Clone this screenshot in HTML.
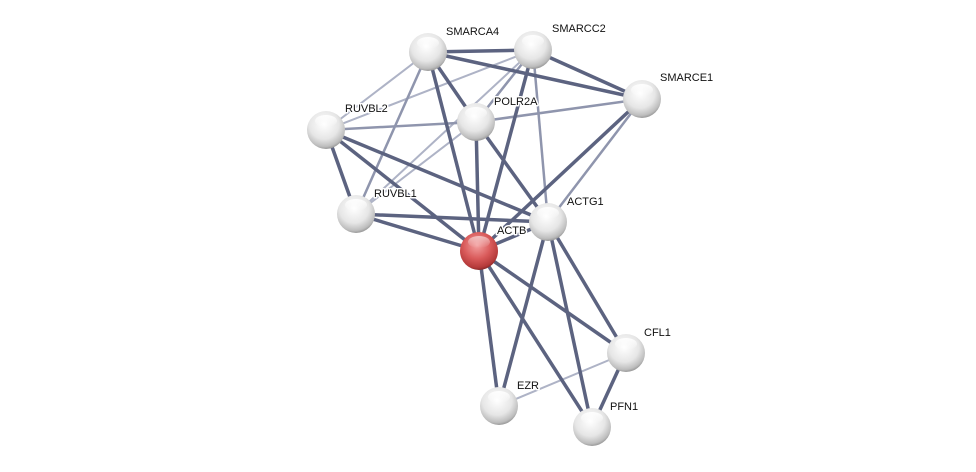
<!DOCTYPE html>
<html><head><meta charset="utf-8"><style>
html,body{margin:0;padding:0;background:#fff;width:976px;height:472px;overflow:hidden}
svg text{font-family:"Liberation Sans",sans-serif;font-size:11px;fill:#111;stroke:#fff;stroke-width:3px;paint-order:stroke;stroke-linejoin:round}
</style></head><body>
<svg width="976" height="472" viewBox="0 0 976 472">
<defs>
<radialGradient id="g" cx="0.45" cy="0.35" r="0.65">
<stop offset="0" stop-color="#ffffff"/><stop offset="0.6" stop-color="#e6e6e6"/><stop offset="0.9" stop-color="#bdbdbd"/><stop offset="1" stop-color="#9a9a9a"/></radialGradient>
<radialGradient id="r" cx="0.45" cy="0.35" r="0.65">
<stop offset="0" stop-color="#f3a0a0"/><stop offset="0.55" stop-color="#d95a5a"/><stop offset="0.9" stop-color="#b53a3a"/><stop offset="1" stop-color="#8a2a2a"/></radialGradient>
<linearGradient id="h" x1="0" y1="0" x2="0" y2="1"><stop offset="0" stop-color="#fff" stop-opacity="0.95"/><stop offset="1" stop-color="#fff" stop-opacity="0"/></linearGradient>
</defs>
<g stroke-linecap="butt">
<g stroke="#aeb3c6" stroke-width="2">
<line x1="428" y1="52" x2="326" y2="130"/>
<line x1="533" y1="50" x2="326" y2="130"/>
<line x1="533" y1="50" x2="356" y2="214"/>
<line x1="476" y1="122" x2="356" y2="214"/>
<line x1="626" y1="353" x2="499" y2="406"/>
</g>
<g stroke="#8f95ad" stroke-width="2.5">
<line x1="428" y1="52" x2="356" y2="214"/>
<line x1="533" y1="50" x2="476" y2="122"/>
<line x1="533" y1="50" x2="548" y2="222"/>
<line x1="642" y1="99" x2="548" y2="222"/>
<line x1="326" y1="130" x2="476" y2="122"/>
<line x1="476" y1="122" x2="642" y2="99"/>
</g>
<g stroke="#5c6380" stroke-width="3.5">
<line x1="428" y1="52" x2="533" y2="50"/>
<line x1="428" y1="52" x2="642" y2="99"/>
<line x1="428" y1="52" x2="476" y2="122"/>
<line x1="428" y1="52" x2="479" y2="251"/>
<line x1="533" y1="50" x2="642" y2="99"/>
<line x1="533" y1="50" x2="479" y2="251"/>
<line x1="642" y1="99" x2="479" y2="251"/>
<line x1="476" y1="122" x2="479" y2="251"/>
<line x1="476" y1="122" x2="548" y2="222"/>
<line x1="326" y1="130" x2="479" y2="251"/>
<line x1="326" y1="130" x2="548" y2="222"/>
<line x1="326" y1="130" x2="356" y2="214"/>
<line x1="356" y1="214" x2="548" y2="222"/>
<line x1="356" y1="214" x2="479" y2="251"/>
<line x1="479" y1="251" x2="548" y2="222"/>
<line x1="479" y1="251" x2="626" y2="353"/>
<line x1="479" y1="251" x2="592" y2="427"/>
<line x1="479" y1="251" x2="499" y2="406"/>
<line x1="548" y1="222" x2="626" y2="353"/>
<line x1="548" y1="222" x2="592" y2="427"/>
<line x1="548" y1="222" x2="499" y2="406"/>
<line x1="626" y1="353" x2="592" y2="427"/>
</g>
</g>
<g>
<g transform="translate(428,52)"><circle r="19" fill="url(#g)"/><ellipse cy="-9" rx="11" ry="6" fill="url(#h)"/></g>
<g transform="translate(533,50)"><circle r="19" fill="url(#g)"/><ellipse cy="-9" rx="11" ry="6" fill="url(#h)"/></g>
<g transform="translate(642,99)"><circle r="19" fill="url(#g)"/><ellipse cy="-9" rx="11" ry="6" fill="url(#h)"/></g>
<g transform="translate(476,122)"><circle r="19" fill="url(#g)"/><ellipse cy="-9" rx="11" ry="6" fill="url(#h)"/></g>
<g transform="translate(326,130)"><circle r="19" fill="url(#g)"/><ellipse cy="-9" rx="11" ry="6" fill="url(#h)"/></g>
<g transform="translate(356,214)"><circle r="19" fill="url(#g)"/><ellipse cy="-9" rx="11" ry="6" fill="url(#h)"/></g>
<g transform="translate(548,222)"><circle r="19" fill="url(#g)"/><ellipse cy="-9" rx="11" ry="6" fill="url(#h)"/></g>
<g transform="translate(479,251)"><circle r="19" fill="url(#r)"/><ellipse cy="-9" rx="11" ry="6" fill="url(#h)" opacity="0.6"/></g>
<g transform="translate(626,353)"><circle r="19" fill="url(#g)"/><ellipse cy="-9" rx="11" ry="6" fill="url(#h)"/></g>
<g transform="translate(499,406)"><circle r="19" fill="url(#g)"/><ellipse cy="-9" rx="11" ry="6" fill="url(#h)"/></g>
<g transform="translate(592,427)"><circle r="19" fill="url(#g)"/><ellipse cy="-9" rx="11" ry="6" fill="url(#h)"/></g>
</g>
<text x="446" y="35">SMARCA4</text>
<text x="552" y="32">SMARCC2</text>
<text x="660" y="81">SMARCE1</text>
<text x="494" y="105">POLR2A</text>
<text x="345" y="112">RUVBL2</text>
<text x="374" y="197">RUVBL1</text>
<text x="567" y="205">ACTG1</text>
<text x="497" y="234">ACTB</text>
<text x="644" y="336">CFL1</text>
<text x="517" y="389">EZR</text>
<text x="610" y="410">PFN1</text>
</svg>
</body></html>
